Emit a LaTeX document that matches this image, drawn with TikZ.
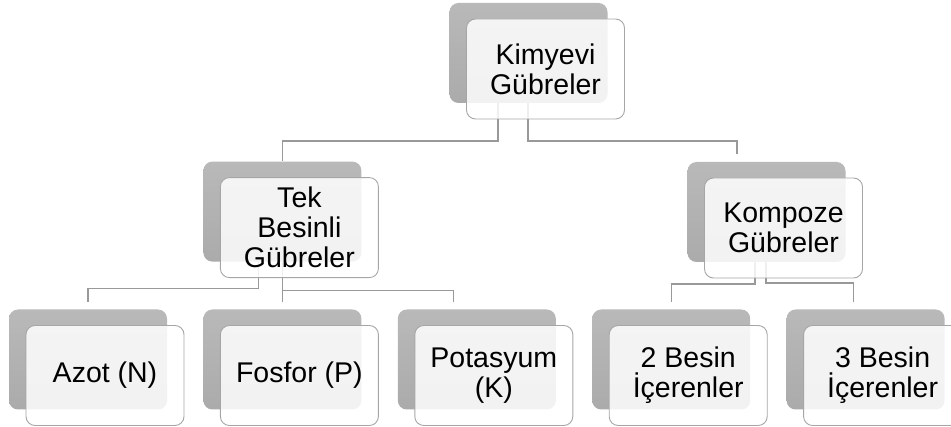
\documentclass[tikz,border=0pt]{standalone}
\usepackage{fontspec}
\setmainfont{Liberation Sans}
\usepackage{xcolor}
\usepackage{tikz}
\usetikzlibrary{shadows, positioning, backgrounds}
\tikzset{
  box/.style={rectangle, draw=gray!70, line width=0.9pt, rounded corners=9pt, fill=white, fill opacity=0.85, text opacity=1,
    minimum width=158pt, minimum height=100pt, inner sep=2pt, align=center, font=\fontsize{28.5}{30}\selectfont,
    general shadow={draw=none, fill opacity=1, top color=gray!55, bottom color=gray!66, shadow xshift=-17pt, shadow yshift=16pt}},
  link/.style={draw=gray!80, line width=1.1pt},
}

\begin{document}
\begin{tikzpicture}[x=1pt, y=-1pt]
    \useasboundingbox (0,0) rectangle (951,427);
    \node[box] (kimyevi) at (545.5,69) {Kimyevi\\Gübreler};
    \node[box] (azot) at (105,375.5) {Azot (N)};
    \node[box, right=35.5pt of azot] (fosfor) {Fosfor (P)};
    \node[box, right=35.5pt of fosfor] (potasyum) {Potasyum\\(K)};
    \node[box, right=35.5pt of potasyum] (besin2) {2 Besin\\İçerenler};
    \node[box, right=35.5pt of besin2] (besin3) {3 Besin\\İçerenler};
    \node[box, above=47pt of fosfor] (tek) {Tek\\Besinli\\Gübreler};
    \node[box] (kompoze) at (783.5,228) {Kompoze\\Gübreler};
    % connectors behind the boxes
    \begin{scope}[on background layer]
      \draw[link] ([xshift=-47.5pt]kimyevi.center) -- ++(0,72) -| ([xshift=-17pt, yshift=16pt]tek.north);
      \draw[link] ([xshift=-17.5pt]kimyevi.center) -- ++(0,72) -| ([xshift=-46.5pt, yshift=24pt]kompoze.north);
      \draw[link] ([xshift=-41pt]tek.center) -- ++(0,61) -| ([xshift=-17pt, yshift=23pt]azot.north);
      \draw[link] ([xshift=-17pt]tek.center) -- ([xshift=-17pt, yshift=23pt]fosfor.north);
      \draw[link] ([xshift=-17pt]tek.center) -- ++(0,63) -| ([xshift=-40.5pt, yshift=23pt]potasyum.north);
      \draw[link] ([xshift=-28.5pt]kompoze.center) -- ++(0,56) -| ([xshift=-17pt, yshift=23pt]besin2.north);
      \draw[link] ([xshift=-17.5pt]kompoze.center) -- ++(0,55) -| ([xshift=-29pt, yshift=23pt]besin3.north);
    \end{scope}
  \end{tikzpicture}
\end{document}
